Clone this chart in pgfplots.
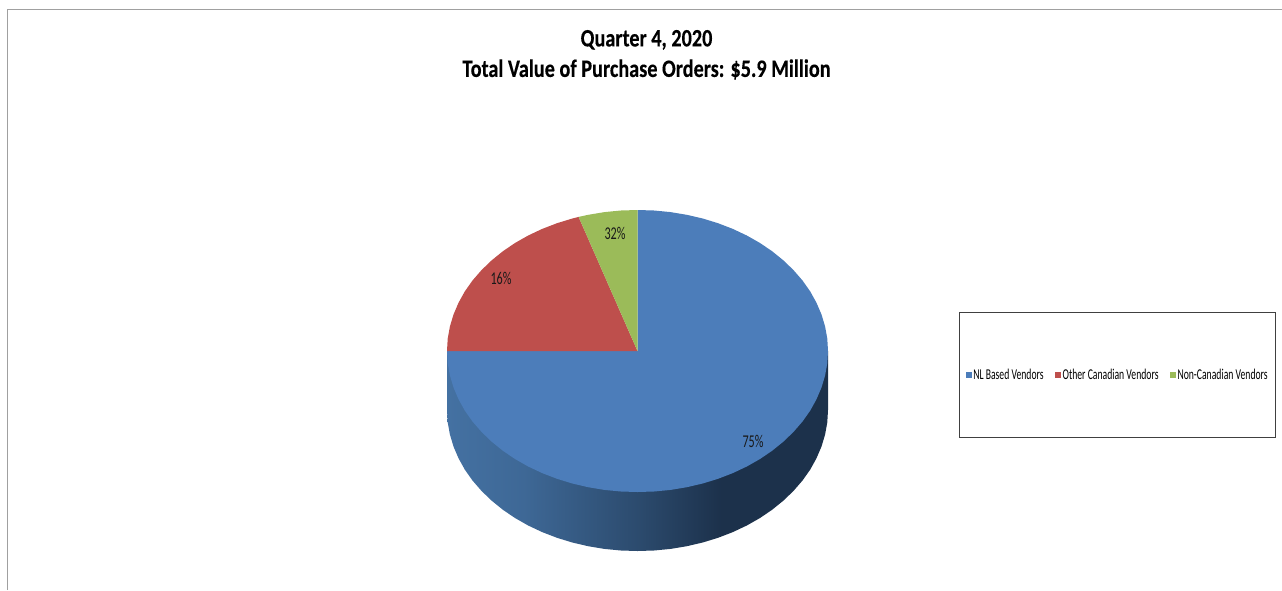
\documentclass[border=0pt]{standalone}
\usepackage{fontspec}
\usepackage{pgfplots}
\pgfplotsset{compat=1.18}
\setmainfont{Carlito}
\newfontfamily\titlef[FakeStretch=0.81,BoldFeatures={FakeBold=0.3}]{Carlito}
\newfontfamily\legf[FakeStretch=0.645]{Carlito}
\newfontfamily\labelf[FakeStretch=0.675]{Carlito}
\definecolor{blueT}{HTML}{4C7DBA}
\definecolor{redT}{HTML}{BE4F4C}
\definecolor{greenT}{HTML}{9BBB59}
\definecolor{frameG}{HTML}{A0A0A0}
\definecolor{sideA}{RGB}{68,113,162}
\definecolor{sideB}{RGB}{62,104,150}
\definecolor{sideC}{RGB}{44,75,110}
\definecolor{sideD}{RGB}{28,49,75}
\pgfdeclarehorizontalshading{pieside}{100bp}{
  color(0bp)=(sideA);
  color(25bp)=(sideA);
  color(35bp)=(sideB);
  color(50bp)=(sideC);
  color(61bp)=(sideD);
  color(75bp)=(sideD);
  color(100bp)=(sideD)}
\begin{document}
\begin{tikzpicture}
\begin{axis}[
  scale only axis, width=1282pt, height=590pt,
  xmin=0, xmax=1282, ymin=0, ymax=590, y dir=reverse,
  hide axis,
  title={Quarter 4, 2020\\Total Value of Purchase Orders: \$5.9 Million},
  title style={at={(axis description cs:0.5043,0.897)}, anchor=center, align=center, inner sep=0pt,
    font=\titlef\bfseries\fontsize{25}{30.5}\selectfont},
  legend columns=3,
  legend style={at={(axis description cs:0.8717,0.3648)}, anchor=center,
    draw=black!75, line width=1pt, fill=white,
    font=\legf\fontsize{15}{16}\selectfont,
    inner xsep=6.3pt, inner ysep=56.5pt,
    nodes={inner xsep=1.5pt, inner ysep=0pt},
    /tikz/every even column/.style={column sep=10pt}},
  legend image code/.code={\fill[#1] (0pt,-3pt) rectangle (6pt,3pt);},
]
% page extent
\addplot[draw=none, forget plot] coordinates {(0,0)(1282,590)};
% outer frame
\addplot[frameG, line width=1pt, forget plot] coordinates {(7.5,590)(7.5,9.5)(1282,9.5)};
% pie wall
\addplot[shading=pieside, draw=none, forget plot] coordinates {
(447,351)(447,410)(447.7,422.3)(449.9,434.5)(453.5,446.5)(458.5,458.2)(464.8,469.6)(472.5,480.5)(481.5,490.9)(491.6,500.6)(502.8,509.7)(515,518)(528.2,525.5)(542.2,532.1)(557,537.8)(572.3,542.5)(588.2,546.2)(604.4,548.9)(620.9,550.5)(637.5,551)(654.1,550.5)(670.6,548.9)(686.8,546.2)(702.7,542.5)(718,537.8)(732.8,532.1)(746.8,525.5)(760,518)(772.2,509.7)(783.4,500.6)(793.5,490.9)(802.5,480.5)(810.2,469.6)(816.5,458.2)(821.5,446.5)(825.1,434.5)(827.3,422.3)(828,410)(828,351)} --cycle;
% NL Based Vendors: 75 %
\addplot[fill=blueT, draw=none] coordinates {
(637.5,351)(637.5,210)(654.1,210.5)(670.6,212.1)(686.8,214.8)(702.7,218.5)(718,223.2)(732.8,228.9)(746.8,235.5)(760,243)(772.2,251.3)(783.4,260.4)(793.5,270.1)(802.5,280.5)(810.2,291.4)(816.5,302.8)(821.5,314.5)(825.1,326.5)(827.3,338.7)(828,351)
(827.3,363.3)(825.1,375.5)(821.5,387.5)(816.5,399.2)(810.2,410.6)(802.5,421.5)(793.5,431.9)(783.4,441.6)(772.2,450.7)(760,459)(746.8,466.5)(732.8,473.1)(718,478.8)(702.7,483.5)(686.8,487.2)(670.6,489.9)(654.1,491.5)(637.5,492)(620.9,491.5)(604.4,489.9)(588.2,487.2)(572.3,483.5)(557,478.8)(542.2,473.1)(528.2,466.5)(515,459)(502.8,450.7)(491.6,441.6)(481.5,431.9)(472.5,421.5)(464.8,410.6)(458.5,399.2)(453.5,387.5)(449.9,375.5)(447.7,363.3)(447,351)} --cycle;
\addlegendentry{NL Based Vendors}
% Other Canadian Vendors: 20 % of the circle
\addplot[fill=redT, draw=none] coordinates {
(637.5,351)(447,351)(447.7,338.7)(449.9,326.5)(453.5,314.5)(458.5,302.8)(464.8,291.4)(472.5,280.5)(481.5,270.1)(491.6,260.4)(502.8,251.3)(515,243)(528.2,235.5)(542.2,228.9)(557,223.2)(572.3,218.5)(578.6,216.9)} --cycle;
\addlegendentry{Other Canadian Vendors}
% Non-Canadian Vendors: 5 % of the circle
\addplot[fill=greenT, draw=none] coordinates {
(637.5,351)(578.6,216.9)(588.2,214.8)(604.4,212.1)(620.9,210.5)(637.5,210)} --cycle;
\addlegendentry{Non-Canadian Vendors}
% data labels as printed in the chart
\node[font=\labelf\fontsize{18}{18}\selectfont, text=black!90] at (axis cs:753,441) {75\%};
\node[font=\labelf\fontsize{18}{18}\selectfont, text=black!90] at (axis cs:501,278) {16\%};
\node[font=\labelf\fontsize{18}{18}\selectfont, text=black!90] at (axis cs:615,233) {32\%};
\end{axis}
\end{tikzpicture}
\end{document}
